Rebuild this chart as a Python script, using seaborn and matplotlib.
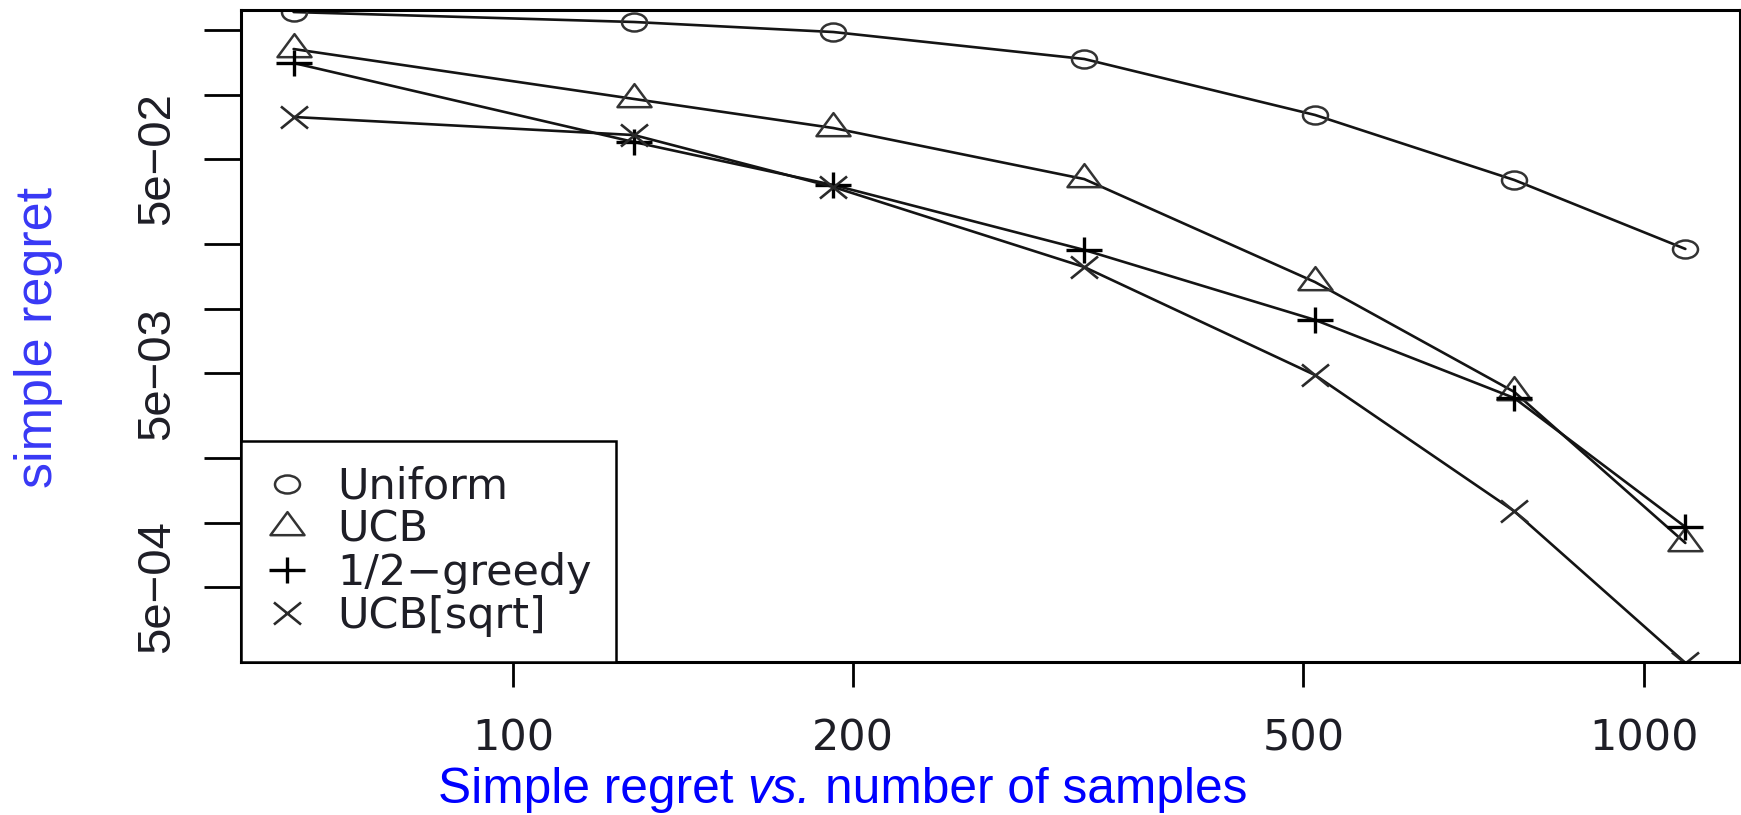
import matplotlib
matplotlib.use("Agg")
import numpy as np
import pandas as pd
import matplotlib.pyplot as plt
import seaborn as sns
from matplotlib.path import Path
from matplotlib.transforms import Affine2D
from matplotlib.lines import Line2D
from matplotlib.ticker import NullLocator
from matplotlib import font_manager

# ---------------- data ----------------
samples = [64, 128, 192, 320, 512, 768, 1088]
uniform = [0.2431, 0.2184, 0.1961, 0.1467, 0.0803, 0.0399, 0.0190]
ucb = [0.1633, 0.0954, 0.0698, 0.0403, 0.0133, 0.00408, 0.000803]
half_greedy = [0.1405, 0.0600, 0.0378, 0.0188, 0.00885, 0.00382, 0.000954]
ucb_sqrt = [0.0786, 0.0647, 0.0370, 0.01564, 0.00489, 0.00113, 0.000221]
methods = ["Uniform", "UCB", "1/2\u2212greedy", "UCB[sqrt]"]

x_ticks = [100, 200, 500, 1000]
x_tick_labels = ["100", "200", "500", "1000"]
y_ticks = [2e-1, 1e-1, 5e-2, 2e-2, 1e-2, 5e-3, 2e-3, 1e-3, 5e-4]
y_tick_labels = ["", "", "5e\u221202", "", "", "5e\u221203", "", "", "5e\u221204"]
x_lim = (57.5, 1216)
y_lim = (2.231e-4, 0.2485)

# ---------------- style ----------------
sns.set_style("ticks")
plt.rcParams["font.family"] = ["Liberation Sans", "DejaVu Sans"]


def font_available(name):
    try:
        font_manager.findfont(font_manager.FontProperties(family=name),
                              fallback_to_default=False)
        return True
    except Exception:
        return False


if font_available("Liberation Sans Narrow"):
    ytick_family, ytick_size = "Liberation Sans Narrow", 40
else:
    ytick_family, ytick_size = "Liberation Sans", 34

W, H = 1741, 815
fig = plt.figure(figsize=(W / 100, H / 100), dpi=100)
fig.patch.set_facecolor("white")
ax = fig.add_axes([241 / W, 1 - 662 / H, (1740 - 241) / W, (662 - 10) / H])
ax.set_facecolor("white")
ax.set_xscale("log")
ax.set_yscale("log")

# marker shapes (R pch 1-4, stretched horizontally as in the picture)
circle_m = Affine2D().scale(1.39, 1.0).transform_path(Path.unit_circle())
tri_m = Path([(0, 1), (1.108, -0.5), (-1.108, -0.5), (0, 1)],
             [Path.MOVETO, Path.LINETO, Path.LINETO, Path.CLOSEPOLY])
plus_m = Path([(-1, 0), (1, 0), (0, -0.72), (0, 0.72)],
              [Path.MOVETO, Path.LINETO, Path.MOVETO, Path.LINETO])
cross_m = Path([(-1, -0.815), (1, 0.815), (-1, 0.815), (1, -0.815)],
               [Path.MOVETO, Path.LINETO, Path.MOVETO, Path.LINETO])

series = [uniform, ucb, half_greedy, ucb_sqrt]
mstyles = [
    dict(marker=circle_m, markersize=18, markeredgecolor="#333333", markeredgewidth=1.8),
    dict(marker=tri_m, markersize=24.5, markeredgecolor="#333333", markeredgewidth=1.8),
    dict(marker=plus_m, markersize=26, markeredgecolor="#000000", markeredgewidth=2.4),
    dict(marker=cross_m, markersize=19.5, markeredgecolor="#2a2a2a", markeredgewidth=1.9),
]
line_color = "#141414"

for name, vals, ms in zip(methods, series, mstyles):
    df = pd.DataFrame({"samples": samples, "regret": vals})
    sns.lineplot(data=df, x="samples", y="regret", ax=ax, color=line_color,
                 linewidth=1.9, markerfacecolor="none", legend=False,
                 errorbar=None, **ms)

ax.set_xlim(*x_lim)
ax.set_ylim(*y_lim)
ax.set_xlabel("")
ax.set_ylabel("")

# ticks
ax.set_xticks(x_ticks)
ax.set_xticklabels(x_tick_labels, fontsize=31, fontfamily="DejaVu Sans",
                   va="baseline", color="#1e1e26")
ax.xaxis.set_minor_locator(NullLocator())
ax.tick_params(axis="x", which="major", length=18, width=2, color="black",
               direction="out", pad=45.4)

ax.set_yticks(y_ticks)
ax.set_yticklabels(y_tick_labels, rotation=90, rotation_mode="anchor",
                   ha="center", va="baseline", fontsize=ytick_size,
                   fontfamily=ytick_family, color="#1e1e26")
ax.yaxis.set_minor_locator(NullLocator())
ax.tick_params(axis="y", which="major", length=26.6, width=2, color="black",
               direction="out", pad=25.2)
for lab in ax.get_yticklabels():
    lab.set_rotation_mode("anchor")

for s in ax.spines.values():
    s.set_visible(True)
    s.set_linewidth(2.2)
    s.set_color("black")

# legend
handles = [Line2D([], [], linestyle="none", markerfacecolor="none", **ms)
           for ms in mstyles]
leg = ax.legend(handles, methods, loc="lower left", bbox_to_anchor=(0, 0),
                borderaxespad=0, frameon=True, fancybox=False, framealpha=1,
                edgecolor="black", facecolor="white",
                prop={"family": "DejaVu Sans", "size": 31},
                borderpad=0.58, labelspacing=0.026, handlelength=0.975,
                handletextpad=0.67, numpoints=1)
leg.get_frame().set_linewidth(1.8)
for t in leg.get_texts():
    t.set_color("#1e1e26")

# axis titles (added in blue)
fig.text(52 / W, 1 - 337.5 / H, "simple regret", rotation=90,
         rotation_mode="anchor", ha="center", va="baseline",
         fontsize=37.5, color="#3838f5", fontfamily="Liberation Sans")

xl_size = 35.7
base_y = 1 - 803 / H
t1 = fig.text(438 / W, base_y, "Simple regret", ha="left", va="baseline",
              fontsize=xl_size, color="#0000ff", fontfamily="Liberation Sans")
fig.canvas.draw()
renderer = fig.canvas.get_renderer()
space_px = 0.278 * xl_size * 100 / 72
bb1 = t1.get_window_extent(renderer)
t2 = fig.text((bb1.x1 + space_px) / W, base_y, "vs.", ha="left", va="baseline",
              fontsize=xl_size, color="#0000ff", fontfamily="Liberation Sans",
              fontstyle="italic")
fig.canvas.draw()
bb2 = t2.get_window_extent(renderer)
fig.text((bb2.x1 + space_px) / W, base_y, "number of samples", ha="left",
         va="baseline", fontsize=xl_size, color="#0000ff",
         fontfamily="Liberation Sans")

fig.savefig("out.png", dpi=100, facecolor="white")
